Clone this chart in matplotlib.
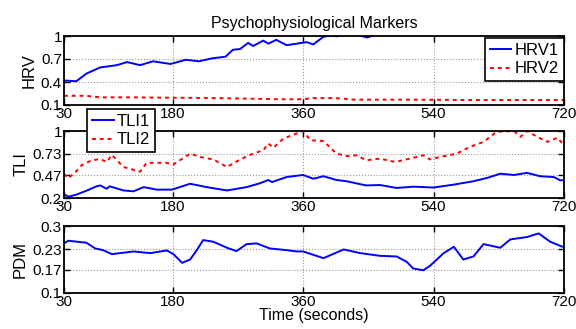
import matplotlib
matplotlib.use('Agg')
import matplotlib.pyplot as plt

plt.rcParams['font.family'] = ['Liberation Sans', 'DejaVu Sans']

# valores
x_ticks = [30, 180, 360, 540, 720]

hrv1_t = [30, 47, 61, 80, 103, 117, 135, 153, 177, 198, 216, 235, 253, 263, 273, 284, 291,
          305, 312, 323, 337, 351, 365, 374, 388, 400, 406, 413, 430, 448, 470, 520, 600, 720]
hrv1_v = [0.42, 0.41, 0.51, 0.59, 0.62, 0.66, 0.62, 0.67, 0.635, 0.69, 0.67, 0.71, 0.73, 0.82,
          0.83, 0.91, 0.87, 0.94, 0.90, 0.95, 0.88, 0.90, 0.92, 0.89, 0.99, 1.01, 0.995, 1.01,
          1.03, 0.98, 1.05, 1.08, 1.1, 1.12]

hrv2_t = [30, 60, 80, 120, 180, 240, 300, 328, 360, 374, 400, 413, 430, 500, 600, 720]
hrv2_v = [0.22, 0.22, 0.20, 0.20, 0.195, 0.19, 0.18, 0.175, 0.175, 0.19, 0.19, 0.185,
          0.17, 0.17, 0.165, 0.165]

tli1_t = [30, 36, 47, 61, 75, 80, 89, 93, 112, 126, 140, 158, 179, 204, 227, 255, 282, 300,
          312, 317, 337, 360, 374, 388, 406, 420, 447, 466, 489, 512, 540, 568, 595, 614, 632,
          651, 669, 687, 706, 715, 720]
tli1_v = [0.244, 0.216, 0.24, 0.287, 0.34, 0.35, 0.31, 0.34, 0.29, 0.28, 0.33, 0.30, 0.30,
          0.37, 0.33, 0.29, 0.33, 0.375, 0.415, 0.39, 0.45, 0.475, 0.43, 0.46, 0.415, 0.40,
          0.35, 0.355, 0.32, 0.335, 0.325, 0.36, 0.40, 0.44, 0.49, 0.475, 0.50, 0.46, 0.45,
          0.41, 0.415]

tli2_t = [30, 36, 47, 54, 68, 80, 89, 96, 112, 135, 144, 172, 181, 204, 218, 236, 255, 273,
          291, 305, 312, 319, 333, 351, 360, 370, 388, 406, 420, 434, 447, 466, 487, 512, 526,
          535, 549, 572, 590, 609, 627, 651, 660, 669, 683, 697, 711, 720]
tli2_v = [0.49, 0.435, 0.52, 0.59, 0.65, 0.665, 0.63, 0.715, 0.57, 0.515, 0.62, 0.62, 0.60,
          0.73, 0.69, 0.66, 0.57, 0.66, 0.73, 0.77, 0.85, 0.80, 0.91, 0.97, 1.0, 0.89, 0.88,
          0.73, 0.70, 0.71, 0.65, 0.67, 0.63, 0.68, 0.71, 0.66, 0.69, 0.73, 0.81, 0.87, 0.99,
          1.0, 0.93, 1.0, 0.93, 0.87, 0.92, 0.83]

pdm_t = [30, 36, 61, 73, 84, 96, 126, 149, 172, 181, 193, 204, 213, 222, 236, 255, 268, 282,
         296, 314, 337, 351, 360, 374, 388, 416, 439, 466, 489, 503, 512, 526, 535, 554, 568,
         581, 595, 609, 632, 646, 669, 685, 701, 718, 720]
pdm_v = [0.248, 0.256, 0.25, 0.233, 0.228, 0.216, 0.224, 0.219, 0.227, 0.216, 0.19, 0.20,
         0.227, 0.258, 0.253, 0.235, 0.225, 0.246, 0.248, 0.233, 0.228, 0.224, 0.224, 0.214,
         0.204, 0.23, 0.219, 0.211, 0.209, 0.193, 0.173, 0.168, 0.181, 0.219, 0.238, 0.20,
         0.209, 0.246, 0.235, 0.26, 0.267, 0.278, 0.253, 0.238, 0.24]

fig = plt.figure(figsize=(5.76, 3.29), dpi=100)
left, width = 64 / 576, 500 / 576
ax1 = fig.add_axes([left, 1 - 105 / 329, width, 69 / 329])
ax2 = fig.add_axes([left, 1 - 198 / 329, width, 67 / 329])
ax3 = fig.add_axes([left, 1 - 293 / 329, width, 67 / 329])

ax1.plot(hrv1_t, hrv1_v, color='#0000ff', lw=1.4, label='HRV1')
ax1.plot(hrv2_t, hrv2_v, color='#ff0000', lw=1.4, ls=(0, (2, 2)), label='HRV2')
ax1.set_ylim(0.1, 1)
ax1.set_yticks([0.1, 0.4, 0.7, 1])
ax1.set_yticklabels(['0.1', '0.4', '0.7', '1'])

ax2.plot(tli1_t, tli1_v, color='#0000ff', lw=1.4, label='TLI1')
ax2.plot(tli2_t, tli2_v, color='#ff0000', lw=1.4, ls=(0, (2, 2)), label='TLI2')
ax2.set_ylim(0.2, 1)
ax2.set_yticks([0.2, 0.47, 0.73, 1])
ax2.set_yticklabels(['0.2', '0.47', '0.73', '1'])

ax3.plot(pdm_t, pdm_v, color='#0000ff', lw=1.4)
ax3.set_ylim(0.1, 0.3)
ax3.set_yticks([0.1, 0.17, 0.23, 0.3])
ax3.set_yticklabels(['0.1', '0.17', '0.23', '0.3'])
ax3.set_xlabel('Time (seconds)', fontsize=11.5, labelpad=-1)

for ax, nome in zip((ax1, ax2, ax3), ('HRV', 'TLI', 'PDM')):
    ax.set_xlim(30, 720)
    ax.set_xticks(x_ticks)
    ax.tick_params(direction='in', length=4, width=1, top=True, right=True,
                   labelsize=11, pad=1.5)
    ax.grid(True, ls=':', color='#999999', lw=0.8)
    for s in ax.spines.values():
        s.set_linewidth(1.3)
    ax.set_ylabel(nome, fontsize=12, labelpad=3)

ax1.set_title('Psychophysiological Markers', fontsize=11.5, pad=6)

estilo_leg = dict(bbox_transform=fig.transFigure, fontsize=12, handlelength=1.3,
                  handletextpad=0.2, borderpad=0.3, labelspacing=0.2, fancybox=False,
                  edgecolor='black', framealpha=1, borderaxespad=0)
leg1 = ax1.legend(loc='upper right', bbox_to_anchor=(564 / 576, 1 - 38 / 329), **estilo_leg)
leg1.get_frame().set_linewidth(1.2)
leg2 = ax2.legend(loc='upper left', bbox_to_anchor=(87 / 576, 1 - 109 / 329), **estilo_leg)
leg2.get_frame().set_linewidth(1.2)

fig.savefig('out.png', dpi=100)
